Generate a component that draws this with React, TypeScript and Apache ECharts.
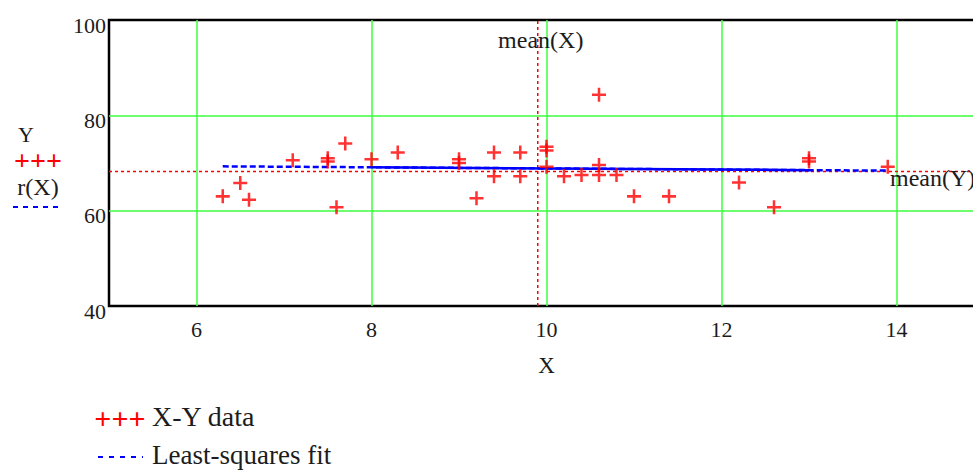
import React, { useEffect, useRef } from "react";
import * as echarts from "echarts";

// ---- data ----
const dataX = [6.3, 6.5, 6.6, 7.1, 7.5, 7.5, 7.6, 7.7, 8.0, 8.3, 9.0, 9.0, 9.2, 9.4, 9.4, 9.7, 9.7, 10.0, 10.0, 10.0, 10.2, 10.4, 10.6, 10.6, 10.6, 10.8, 11.0, 11.4, 12.2, 12.6, 13.0, 13.0, 13.9];
const dataY = [63, 65.8, 62.3, 70.6, 71, 70.3, 60.7, 74.1, 70.8, 72.2, 70.8, 70, 62.6, 72.2, 67.2, 72.2, 67.2, 73.4, 72.6, 69.2, 67.2, 67.5, 84.3, 69.6, 67.5, 67.5, 63, 63, 65.9, 60.7, 71, 70.3, 69.2];
const fitX = [6.3, 8.0, 13.0, 13.9];
const fitY = [69.3, 69.1, 68.5, 68.4];
const meanX = 9.9;
const meanY = 68.2;
const xRange = [5, 15];
const yRange = [40, 100];
const yInterval = 20;
const legendLabels = ["X-Y data", "Least-squares fit"];
const sideLabels = ["Y", "r(X)"];
const meanLabels = ["mean(X)", "mean(Y)"];

const FONT = "'Liberation Serif', 'Times New Roman', serif";
const CROSS = "path://M4.1,0H5.9V4.1H10V5.9H5.9V10H4.1V5.9H0V4.1H4.1Z";
const RED = "#ff0000";
const BLUE = "#0000ff";
const GREEN = "#3cff3c";
const TXT = "#1c1c1c";

export default function App() {
  const ref = useRef<HTMLDivElement>(null);
  useEffect(() => {
    document.body.style.margin = "0";
    document.body.style.overflow = "hidden";
    const chart = echarts.init(ref.current!, null, { renderer: "svg" });
    const option: any = {
      animation: false,
      backgroundColor: "#ffffff",
      grid: {
        left: 109,
        top: 20,
        width: 875,
        height: 286,
        show: true,
        borderColor: "#000",
        borderWidth: 2.5,
        containLabel: false,
      },
      xAxis: {
        type: "value",
        min: xRange[0],
        max: xRange[1],
        splitNumber: 5,
        name: "X",
        nameLocation: "middle",
        nameGap: 48,
        nameTextStyle: { fontFamily: FONT, fontSize: 23, color: TXT },
        axisLine: { show: false },
        axisTick: { show: false },
        axisLabel: {
          fontFamily: FONT,
          fontSize: 22,
          color: TXT,
          margin: 12,
          showMinLabel: false,
          showMaxLabel: false,
        },
        splitLine: {
          show: true,
          showMinLine: false,
          showMaxLine: false,
          lineStyle: { color: GREEN, width: 1.5 },
        },
      },
      yAxis: {
        type: "value",
        min: yRange[0],
        max: yRange[1],
        interval: yInterval,
        axisLine: { show: false },
        axisTick: { show: false },
        axisLabel: {
          fontFamily: FONT,
          fontSize: 22,
          color: TXT,
          margin: 3,
          verticalAlign: "top",
          padding: [-6, 0, 0, 0],
        },
        splitLine: {
          show: true,
          showMinLine: false,
          showMaxLine: false,
          lineStyle: { color: GREEN, width: 1.5 },
        },
      },
      series: [
        {
          type: "line",
          name: "mean(Y)",
          data: [[xRange[0], meanY], [xRange[1], meanY]],
          showSymbol: false,
          lineStyle: { color: RED, width: 1.5, type: [3, 3] },
          z: 2,
        },
        {
          type: "line",
          name: "mean(X)",
          data: [[meanX, yRange[0]], [meanX, yRange[1]]],
          showSymbol: false,
          lineStyle: { color: RED, width: 1.5, type: [3, 3] },
          z: 2,
        },
        {
          type: "line",
          name: "Least-squares fit",
          data: fitX.map((x, i) => [x, fitY[i]]),
          showSymbol: false,
          lineStyle: { color: BLUE, width: 2.5, type: [6, 3] },
          z: 3,
        },
        {
          type: "line",
          name: "Least-squares fit (overlap)",
          data: fitX.slice(1, 3).map((x, i) => [x, fitY[i + 1]]),
          showSymbol: false,
          lineStyle: { color: BLUE, width: 2.5 },
          z: 3,
        },
        {
          type: "scatter",
          name: "X-Y data",
          data: dataX.map((x, i) => [x, dataY[i]]),
          symbol: CROSS,
          symbolSize: 14,
          itemStyle: { color: RED },
          z: 4,
        },
      ],
    };
    chart.setOption(option);

    const top = chart.convertToPixel({ xAxisIndex: 0, yAxisIndex: 0 }, [meanX, yRange[1]]) as number[];
    const right = chart.convertToPixel({ xAxisIndex: 0, yAxisIndex: 0 }, [xRange[1], meanY]) as number[];

    chart.setOption({
      graphic: [
        {
          type: "text",
          x: top[0] + 3,
          y: top[1] + 20,
          style: {
            text: meanLabels[0],
            fontFamily: FONT,
            fontSize: 24,
            fill: TXT,
            align: "center",
            verticalAlign: "middle",
          },
          z: 10,
        },
        {
          type: "text",
          x: right[0] - 94,
          y: right[1] + 6,
          style: {
            text: meanLabels[1],
            fontFamily: FONT,
            fontSize: 24,
            fill: TXT,
            verticalAlign: "middle",
          },
          z: 10,
        },
        // left y-axis legend
        {
          type: "text",
          x: 26,
          y: 134,
          style: { text: sideLabels[0], fontFamily: FONT, fontSize: 22, fill: TXT, align: "center", verticalAlign: "middle" },
        },
        {
          type: "text",
          x: 38,
          y: 160,
          style: { text: "+++", fontFamily: FONT, fontSize: 28, fontWeight: "bold", fill: RED, align: "center", verticalAlign: "middle" },
        },
        {
          type: "text",
          x: 38,
          y: 187,
          style: { text: sideLabels[1], fontFamily: FONT, fontSize: 24, fill: TXT, align: "center", verticalAlign: "middle" },
        },
        {
          type: "line",
          shape: { x1: 13, y1: 207, x2: 62, y2: 207 },
          style: { stroke: BLUE, lineWidth: 2, lineDash: [5, 5] },
        },
        // bottom legend
        {
          type: "text",
          x: 120,
          y: 418,
          style: { text: "+++", fontFamily: FONT, fontSize: 30, fontWeight: "bold", fill: RED, align: "center", verticalAlign: "middle" },
        },
        {
          type: "text",
          x: 152,
          y: 416,
          style: { text: legendLabels[0], fontFamily: FONT, fontSize: 28, fill: TXT, verticalAlign: "middle" },
        },
        {
          type: "line",
          shape: { x1: 98, y1: 457, x2: 143, y2: 457 },
          style: { stroke: BLUE, lineWidth: 1.8, lineDash: [5, 6] },
        },
        {
          type: "text",
          x: 152,
          y: 455,
          style: { text: legendLabels[1], fontFamily: FONT, fontSize: 27, fill: TXT, verticalAlign: "middle" },
        },
      ],
    });
    return () => chart.dispose();
  }, []);
  return <div ref={ref} style={{ width: 992, height: 470 }} />;
}
